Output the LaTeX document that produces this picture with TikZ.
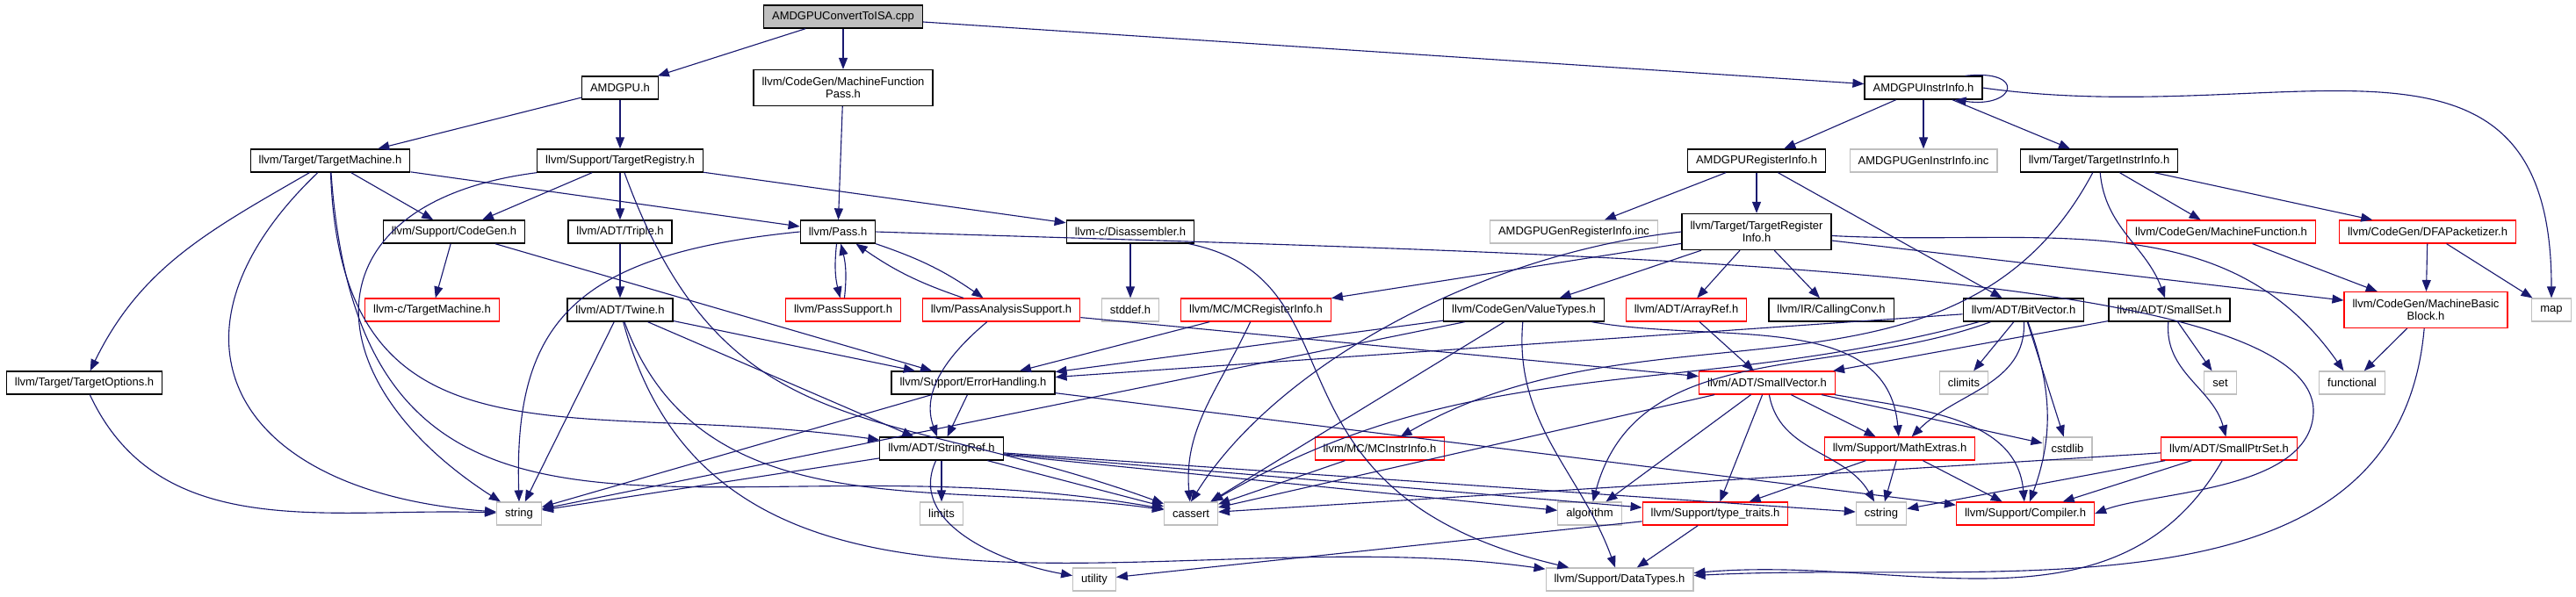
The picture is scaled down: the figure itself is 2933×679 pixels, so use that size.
\documentclass[tikz,border=0pt]{standalone}
\usepackage{fontspec}
\setmainfont{Liberation Sans}
\usetikzlibrary{arrows.meta, calc}
\definecolor{depblue}{HTML}{191970}
\definecolor{sysgray}{HTML}{BFBFBF}

\begin{document}
\begin{tikzpicture}[
    x=0.25pt, y=0.25pt,
    every node/.style={font=\fontsize{3.25}{3.625}\selectfont},
    file/.style={draw, rectangle, minimum height=6.5pt, inner xsep=2.375pt, inner ysep=0.75pt, align=center},
    hdr/.style={file, draw=black, line width=0.33pt},
    redhdr/.style={file, draw=red, line width=0.3pt},
    syshdr/.style={file, draw=sysgray, line width=0.3pt},
    rootfile/.style={hdr, fill=sysgray},
    twoline/.style={minimum height=10.25pt},
    dep/.style={draw=depblue, line width=0.28pt, -{Triangle[length=3.25pt,width=2.5pt]}},
]
\useasboundingbox (0,0) rectangle (2933,-679);

% rows of headers
\node[rootfile] (cpp) at (960,-19) {AMDGPUConvertToISA.cpp};
\node[hdr] (amdgpu) at (706,-100) {AMDGPU.h};
\node[hdr, twoline] (mfpass) at (960,-100) {llvm/CodeGen/MachineFunction\\Pass.h};
\node[hdr] (instrinfo) at (2190,-100) {AMDGPUInstrInfo.h};
\node[hdr] (tmach) at (376,-183) {llvm/Target/TargetMachine.h};
\node[hdr] (treg) at (706,-183) {llvm/Support/TargetRegistry.h};
\node[hdr] (reginfo) at (2000,-183) {AMDGPURegisterInfo.h};
\node[syshdr] (geninstr) at (2190,-183) {AMDGPUGenInstrInfo.inc};
\node[hdr] (tinstr) at (2390,-183) {llvm/Target/TargetInstrInfo.h};
\node[hdr] (codegen) at (517,-264) {llvm/Support/CodeGen.h};
\node[hdr] (triple) at (706,-264) {llvm/ADT/Triple.h};
\node[hdr] (pass) at (954,-264) {llvm/Pass.h};
\node[hdr] (disasm) at (1287,-264) {llvm-c/Disassembler.h};
\node[syshdr] (genreg) at (1792,-264) {AMDGPUGenRegisterInfo.inc};
\node[hdr, twoline] (treginfo) at (2000,-264) {llvm/Target/TargetRegister\\Info.h};
\node[redhdr] (mfunc) at (2529,-264) {llvm/CodeGen/MachineFunction.h};
\node[redhdr] (dfa) at (2764,-264) {llvm/CodeGen/DFAPacketizer.h};
\node[redhdr] (ctmach) at (492,-353) {llvm-c/TargetMachine.h};
\node[hdr] (twine) at (706,-353) {llvm/ADT/Twine.h};
\node[redhdr] (passsup) at (960,-353) {llvm/PassSupport.h};
\node[redhdr] (passan) at (1140,-353) {llvm/PassAnalysisSupport.h};
\node[syshdr] (stddef) at (1287,-353) {stddef.h};
\node[redhdr] (mcreg) at (1430,-353) {llvm/MC/MCRegisterInfo.h};
\node[hdr] (vtypes) at (1735,-353) {llvm/CodeGen/ValueTypes.h};
\node[redhdr] (arrayref) at (1920,-353) {llvm/ADT/ArrayRef.h};
\node[hdr] (callconv) at (2085,-353) {llvm/IR/CallingConv.h};
\node[hdr] (bitvec) at (2304,-353) {llvm/ADT/BitVector.h};
\node[hdr] (smallset) at (2470,-353) {llvm/ADT/SmallSet.h};
\node[redhdr, twoline] (mbb) at (2762,-353) {llvm/CodeGen/MachineBasic\\Block.h};
\node[syshdr] (map) at (2905,-353) {map};
\node[hdr] (topts) at (96,-436) {llvm/Target/TargetOptions.h};
\node[hdr] (errh) at (1108,-436) {llvm/Support/ErrorHandling.h};
\node[redhdr] (smallvec) at (2012,-436) {llvm/ADT/SmallVector.h};
\node[syshdr] (climits) at (2236,-436) {climits};
\node[syshdr] (set) at (2528,-436) {set};
\node[syshdr] (functional) at (2678,-436) {functional};
\node[hdr] (strref) at (1072,-511) {llvm/ADT/StringRef.h};
\node[redhdr] (mcinstr) at (1571,-511) {llvm/MC/MCInstrInfo.h};
\node[redhdr] (mathx) at (2163,-511) {llvm/Support/MathExtras.h};
\node[syshdr] (cstdlib) at (2354,-511) {cstdlib};
\node[redhdr] (smallptr) at (2538,-511) {llvm/ADT/SmallPtrSet.h};
\node[syshdr] (string) at (591,-585) {string};
\node[syshdr] (limits) at (1072,-585) {limits};
\node[syshdr] (cassert) at (1356,-585) {cassert};
\node[syshdr] (algorithm) at (1810,-585) {algorithm};
\node[redhdr] (typetr) at (1953,-585) {llvm/Support/type\_traits.h};
\node[syshdr] (cstring) at (2142,-585) {cstring};
\node[redhdr] (compiler) at (2306,-585) {llvm/Support/Compiler.h};
\node[syshdr] (utility) at (1246,-660) {utility};
\node[syshdr] (datatypes) at (1844,-660) {llvm/Support/DataTypes.h};

% top of the graph
\draw[dep] (cpp) -- (amdgpu);
\draw[dep] (cpp) -- (mfpass);
\draw[dep] (cpp) -- (instrinfo);
\draw[dep] (amdgpu) -- (tmach);
\draw[dep] (amdgpu) -- (treg);
\draw[dep] (mfpass) -- (pass);
% AMDGPUInstrInfo.h
\draw[dep] ([xshift=-5pt]instrinfo.north east) .. controls +(70,8) and +(70,-10) .. ([xshift=-8pt]instrinfo.south east);
\draw[dep] (instrinfo) -- (reginfo);
\draw[dep] (instrinfo) -- (geninstr);
\draw[dep] (instrinfo) -- (tinstr);
\draw[dep] (instrinfo.east) to[out=-8,in=90,looseness=1.3] (map.north);
% TargetMachine.h
\draw[dep] (tmach) to[out=-150,in=64] (topts);
\draw[dep] (tmach) .. controls (170,-380) and (260,-560) .. (string);
\draw[dep] (tmach) to[out=-88,in=172,looseness=1.3] (strref);
\draw[dep] (tmach) to[out=-86,in=170,looseness=1.3] (cassert);
\draw[dep] (tmach) -- (codegen);
\draw[dep] (tmach) -- (pass);
% TargetRegistry.h
\draw[dep] (treg.south west) .. controls (350,-230) and (350,-430) .. (string);
\draw[dep] (treg) -- (codegen);
\draw[dep] (treg) -- (triple);
\draw[dep] (treg) to[out=-70,in=160,looseness=1.2] (cassert);
\draw[dep] (treg) -- (disasm);
% CodeGen.h, Triple.h, Twine.h
\draw[dep] (codegen) -- (ctmach);
\draw[dep] (codegen) -- (errh);
\draw[dep] (triple) -- (twine);
\draw[dep] (twine) -- (string);
\draw[dep] (twine) -- (errh);
\draw[dep] (twine) -- (strref);
\draw[dep] (twine) to[out=-70,in=172] (cassert);
\draw[dep] (twine) to[out=-75,in=172] (datatypes);
% Pass.h and its support headers
\draw[dep] (pass.west) .. controls (650,-290) and (585,-370) .. (string.north);
\draw[dep] (pass) to[bend right=10] (passsup);
\draw[dep] (passsup) to[bend right=10] (pass);
\draw[dep] (pass) to[bend left=8] (passan);
\draw[dep] (passan) to[bend left=8] (pass);
\draw[dep] (pass.east) .. controls (1800,-290) and (2640,-300) .. (2634,-470)
   .. controls (2630,-560) and (2450,-560) .. (compiler.east);
% TargetRegisterInfo.h
\draw[dep] (treginfo) -- (mcreg);
\draw[dep] (treginfo.west) .. controls (1680,-290) and (1450,-420) .. (cassert.north);
\draw[dep] (treginfo) -- (vtypes);
\draw[dep] (treginfo) -- (arrayref);
\draw[dep] (treginfo) -- (callconv);
\draw[dep] (treginfo) to[out=-3,in=125] (functional);
\draw[dep] (treginfo) -- (mbb);
% AMDGPURegisterInfo.h
\draw[dep] (reginfo) -- (genreg);
\draw[dep] (reginfo) -- (treginfo);
\draw[dep] (reginfo) -- (bitvec);
% TargetInstrInfo.h
\draw[dep] (tinstr) to[out=-118,in=30] (mcinstr);
\draw[dep] (tinstr) to[out=-85,in=110] (smallset);
\draw[dep] (tinstr) -- (mfunc);
\draw[dep] (tinstr) -- (dfa);
\draw[dep] (mfunc) -- (mbb);
\draw[dep] (dfa) -- (mbb);
\draw[dep] (dfa) -- (map);
% PassAnalysisSupport.h, Disassembler.h, MCRegisterInfo.h
\draw[dep] (passan) to[out=-140,in=110] (strref);
\draw[dep] (passan) -- (smallvec);
\draw[dep] (disasm) -- (stddef);
\draw[dep] (disasm) .. controls (1560,-320) and (1420,-560) .. (datatypes);
\draw[dep] (mcreg) -- (errh);
\draw[dep] (mcreg) to[out=-115,in=95] (cassert);
% ValueTypes.h, ArrayRef.h
\draw[dep] (vtypes) -- (errh);
\draw[dep] (vtypes) -- (string);
\draw[dep] (vtypes) -- (cassert);
\draw[dep] (vtypes) to[out=-95,in=110] (datatypes);
\draw[dep] (vtypes) to[out=-10,in=95] (mathx);
\draw[dep] (arrayref) -- (smallvec);
% BitVector.h
\draw[dep] (bitvec) -- (errh);
\draw[dep] (bitvec) to[out=-165,in=30] (cassert);
\draw[dep] (bitvec) to[out=-160,in=75] (algorithm);
\draw[dep] (bitvec) -- (climits);
\draw[dep] (bitvec) to[out=-88,in=45] (mathx);
\draw[dep] (bitvec) -- (cstdlib);
\draw[dep] (bitvec) to[out=-70,in=70] (compiler);
% SmallSet.h, MachineBasicBlock.h
\draw[dep] (smallset) -- (smallvec);
\draw[dep] (smallset) -- (set);
\draw[dep] (smallset) to[out=-95,in=105] (smallptr);
\draw[dep] (mbb) -- (functional);
\draw[dep] (mbb) to[out=-95,in=3] (datatypes);
% ErrorHandling.h
\draw[dep] (errh) -- (strref);
\draw[dep] (errh) -- (compiler);
\draw[dep] (errh) -- (string);
% SmallVector.h
\draw[dep] (smallvec) -- (mathx);
\draw[dep] (smallvec) -- (cstdlib);
\draw[dep] (smallvec) to[out=-10,in=95] (compiler);
\draw[dep] (smallvec) to[out=-80,in=120] (cstring);
\draw[dep] (smallvec) -- (typetr);
\draw[dep] (smallvec) -- (algorithm);
\draw[dep] (smallvec) -- (cassert);
% StringRef.h
\draw[dep] (strref) -- (limits);
\draw[dep] (strref) -- (cassert);
\draw[dep] (strref) to[out=-115,in=170] (utility);
\draw[dep] (strref) -- (string);
\draw[dep] (strref) -- (algorithm);
\draw[dep] (strref) -- (typetr);
\draw[dep] (strref) -- (cstring);
% the rest
\draw[dep] (mcinstr) -- (cassert);
\draw[dep] (mathx) -- (typetr);
\draw[dep] (mathx) -- (cstring);
\draw[dep] (mathx) -- (compiler);
\draw[dep] (smallptr) -- (cassert);
\draw[dep] (smallptr) -- (cstring);
\draw[dep] (smallptr) -- (compiler);
\draw[dep] (smallptr) to[out=-120,in=5] (datatypes);
\draw[dep] (typetr) -- (utility);
\draw[dep] (typetr) -- (datatypes);
\draw[dep] (topts) to[out=-65,in=178] (string);
\end{tikzpicture}
\end{document}
